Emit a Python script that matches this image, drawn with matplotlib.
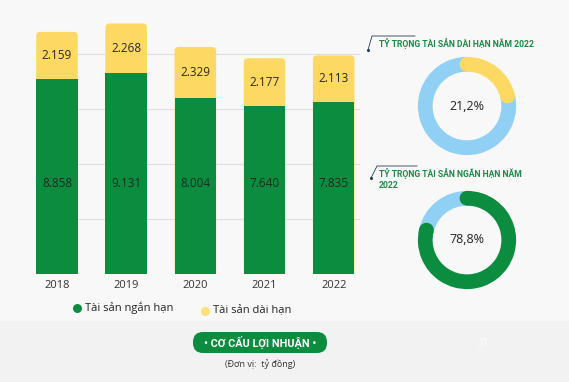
import matplotlib.pyplot as plt
import numpy as np
from matplotlib.patches import FancyBboxPatch, Circle, Rectangle

plt.rcParams['font.family'] = ['Open Sans', 'DejaVu Sans']

years = ['2018', '2019', '2020', '2021', '2022']
short_term = [8858, 9131, 8004, 7640, 7835]
long_term = [2159, 2268, 2329, 2177, 2113]
short_labels = ['8.858', '9.131', '8.004', '7.640', '7.835']
long_labels = ['2.159', '2.268', '2.329', '2.177', '2.113']
share_long = [21.2, 78.8]
share_short = [78.8, 21.2]

green = '#0c8c3e'
yellow = '#fdd862'
blue = '#8fd0f4'
bg = '#f7f8f7'
W, H = 569, 382

fig = plt.figure(figsize=(W / 100, H / 100), dpi=100, facecolor=bg)

# background / decoration layer in pixel coords
deco = fig.add_axes([0, 0, 1, 1], zorder=-1)
deco.set_xlim(0, W)
deco.set_ylim(H, 0)
deco.axis('off')
deco.add_patch(Rectangle((0, 321), W, 61, color='#f1f2f1', lw=0))

# stacked bars
ax = fig.add_axes([36.2 / W, 1 - 274 / H, 323.8 / W, 252.7 / H])
ax.set_facecolor('none')
x = np.arange(len(years))
ax.bar(x, short_term, width=0.6, color=green, zorder=2)
tops = ax.bar(x, long_term, width=0.6, bottom=short_term, color=yellow, zorder=2)
# give the yellow tops rounded corners (bottom corners hide behind the green)
xpx = 318.6 / 4.68
ypx = 252.7 / 11500
for r in tops:
    r.set_visible(False)
    ax.add_patch(FancyBboxPatch((r.get_x(), 0), r.get_width(), r.get_y() + r.get_height(),
                                boxstyle='round,pad=0,rounding_size=0.06',
                                mutation_aspect=xpx / ypx, color=yellow, lw=0, zorder=1.9))
for i in range(len(years)):
    ax.text(x[i], 4100, short_labels[i], ha='center', va='center',
            fontsize=8.5, color='#1d2a22', zorder=3)
    ax.text(x[i], short_term[i] + long_term[i] / 2, long_labels[i],
            ha='center', va='center', fontsize=8.5, color='#2a2a2a', zorder=3)
ax.set_xlim(-0.3, 4.38)
ax.set_ylim(0, 11500)
ax.set_yticks([0, 2500, 5000, 7500, 10000])
ax.yaxis.grid(True, color='#dedede', lw=0.8)
ax.set_axisbelow(True)
ax.set_yticklabels([])
ax.tick_params(length=0, pad=4)
ax.set_xticks(x)
ax.set_xticklabels(years, fontsize=8, color='#333333')
for s in ax.spines.values():
    s.set_visible(False)

# legend
deco.scatter([77], [308], s=42, color=green, lw=0)
deco.text(85, 308, 'Tài sản ngắn hạn', fontsize=8, color='#222222', va='center')
deco.scatter([205], [311], s=42, color='#fde07a', lw=0)
deco.text(213, 311, 'Tài sản dài hạn', fontsize=8, color='#222222', va='center')

# donuts
def donut(cy, values, colors, label):
    size = 110
    dax = fig.add_axes([(467 - size / 2) / W, 1 - (cy + size / 2) / H, size / W, size / H])
    dax.set_facecolor('none')
    wedges, _ = dax.pie(values, colors=colors, startangle=90, counterclock=False,
                        radius=1, wedgeprops=dict(width=0.3, lw=0))
    w = wedges[0]
    for ang in (w.theta1, w.theta2):
        a = np.deg2rad(ang)
        dax.add_patch(Circle((0.85 * np.cos(a), 0.85 * np.sin(a)), 0.15,
                             color=colors[0], lw=0))
    dax.text(0, 0, label, ha='center', va='center', fontsize=9, color='#222222')
    dax.set_xlim(-1.12, 1.12)
    dax.set_ylim(-1.12, 1.12)
    dax.set_aspect('equal')
    dax.axis('off')

donut(106, share_long, [yellow, blue], '21,2%')
donut(240, share_short, [green, blue], '78,8%')

# donut titles with small decorative strokes
title_green = '#1d8a4a'
deco.plot([368, 372, 415], [50, 36, 36], color='#2b3a55', lw=0.6)
deco.scatter([368], [50], s=5, color='#2b3a55', lw=0)
deco.text(379, 44, 'TỶ TRỌNG TÀI SẢN DÀI HẠN NĂM 2022', fontsize=6.2,
          fontweight='bold', color=title_green, va='center',
          family=['Roboto', 'DejaVu Sans'])
deco.plot([371, 377, 417], [178, 166, 166], color='#2b3a55', lw=0.6)
deco.scatter([371], [178], s=5, color='#2b3a55', lw=0)
deco.text(379, 174, 'TỶ TRỌNG TÀI SẢN NGẮN HẠN NĂM', fontsize=6.2,
          fontweight='bold', color=title_green, va='center',
          family=['Roboto', 'DejaVu Sans'])
deco.text(379, 186, '2022', fontsize=6.2, fontweight='bold', color=title_green,
          va='center', family=['Roboto', 'DejaVu Sans'])

# footer pill
deco.add_patch(FancyBboxPatch((193, 332), 134, 21,
                              boxstyle='round,pad=0,rounding_size=10',
                              color=green, lw=0))
deco.text(260, 342.5, '• CƠ CẤU LỢI NHUẬN •', fontsize=7.8, fontweight='bold',
          color='white', ha='center', va='center', family=['Roboto', 'DejaVu Sans'])
deco.text(260, 364, '(Đơn vị:  tỷ đồng)', fontsize=6.5, color='#333333',
          ha='center', va='center')
deco.text(483, 343, '31', fontsize=7, color='white', ha='center', va='center')

fig.savefig('out.png', dpi=100, facecolor=bg)
